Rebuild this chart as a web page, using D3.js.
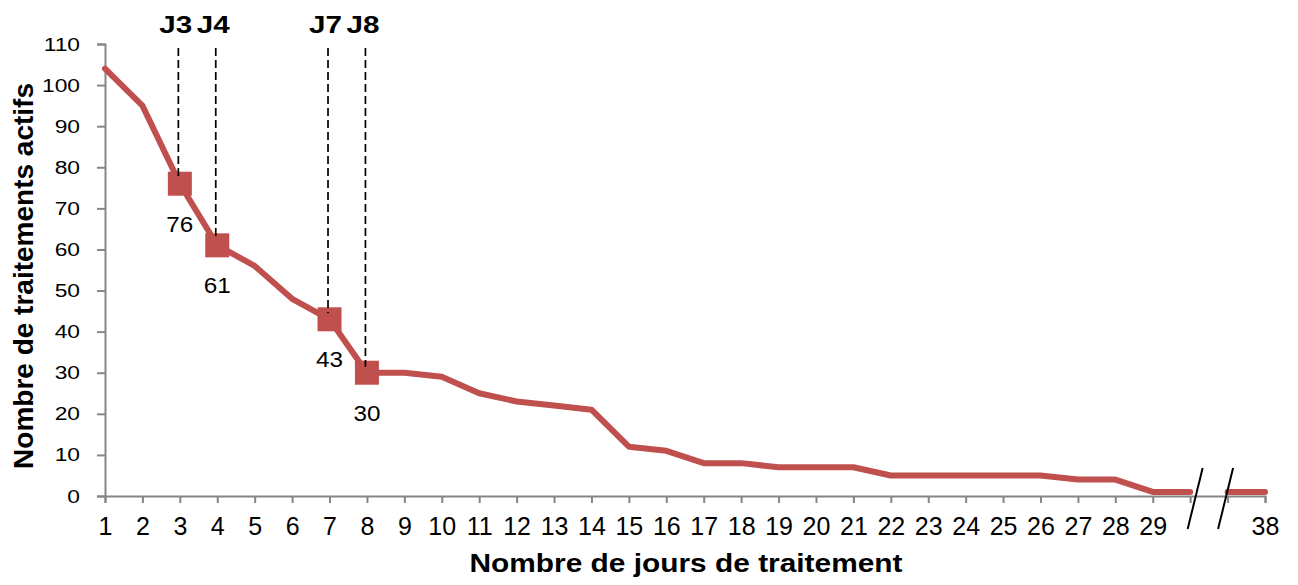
<!DOCTYPE html>
<html>
<head>
<meta charset="utf-8">
<script src="https://cdn.jsdelivr.net/npm/d3@7"></script>
<style>
  body { margin: 0; background: #fff; }
  svg { display: block; font-family: "Liberation Sans", Arial, sans-serif; }
</style>
</head>
<body>
<svg id="chart" width="1298" height="585"></svg>
<script>
'use strict';
// day labels on the x axis (two blank slots stand for the axis break)
const dayLabels = ['1','2','3','4','5','6','7','8','9','10','11','12','13','14','15',
  '16','17','18','19','20','21','22','23','24','25','26','27','28','29','','','38'];
// number of active treatments per slot
const actifs = [104,95,76,61,56,48,43,30,30,29,25,23,22,21,12,11,8,8,7,7,7,5,5,5,5,5,4,4,1,1,1,1];
// highlighted days (index in dayLabels) and their tags
const marked = [2, 3, 6, 7];
const markTags = ['J3', 'J4', 'J7', 'J8'];
const yTicks = [0,10,20,30,40,50,60,70,80,90,100,110];
// line is broken between these two slots
const breakAfter = 29;

const red = '#C0504D';
const axisGrey = '#868686';

const svg = d3.select('#chart');

const xScale = d3.scalePoint()
  .domain(d3.range(dayLabels.length))
  .range([105, 1265]);

const yScale = d3.scaleLinear()
  .domain([0, 110])
  .range([496, 44]);

// x axis
const xAxis = svg.append('g')
  .attr('transform', `translate(0,${yScale(0)})`)
  .call(d3.axisBottom(xScale).tickFormat((i) => dayLabels[i]).tickSizeOuter(0).tickSize(7).tickPadding(14));
xAxis.select('.domain').attr('stroke', axisGrey).attr('stroke-width', 2);
xAxis.selectAll('.tick line').attr('stroke', axisGrey).attr('stroke-width', 2);
xAxis.selectAll('.tick text')
  .attr('fill', '#000')
  .attr('font-size', 25)
  .attr('font-family', '"Liberation Sans", Arial, sans-serif');

// y axis, labels widened a bit like the original
const ySx = 1.2;
const yAxis = svg.append('g')
  .attr('transform', `translate(${xScale(0)},0)`)
  .call(d3.axisLeft(yScale).tickValues(yTicks).tickSizeOuter(0).tickSize(8));
yAxis.select('.domain').attr('stroke', axisGrey).attr('stroke-width', 2);
yAxis.selectAll('.tick line').attr('stroke', axisGrey).attr('stroke-width', 2);
yAxis.selectAll('.tick text')
  .attr('fill', '#000')
  .attr('font-size', 19)
  .attr('font-family', '"Liberation Sans", Arial, sans-serif')
  .attr('x', -25 / ySx)
  .attr('transform', `scale(${ySx},1)`);

// the line, in two pieces around the break
const pts = actifs.map((v, i) => ({ i, v }));
const line = d3.line().x((d) => xScale(d.i)).y((d) => yScale(d.v));
[pts.slice(0, breakAfter + 1), pts.slice(breakAfter + 1)].forEach((seg) => {
  svg.append('path')
    .attr('d', line(seg))
    .attr('fill', 'none')
    .attr('stroke', red)
    .attr('stroke-width', 6)
    .attr('stroke-linejoin', 'round')
    .attr('stroke-linecap', 'round');
});

// break marks
[xScale(breakAfter) + 5, xScale(breakAfter + 1) - 2].forEach((cx) => {
  svg.append('line')
    .attr('x1', cx - 7.5).attr('y1', yScale(0) + 33)
    .attr('x2', cx + 7.5).attr('y2', yScale(0) - 28)
    .attr('stroke', '#000')
    .attr('stroke-width', 2);
});

// square markers
svg.selectAll('.mark')
  .data(marked)
  .join('rect')
  .attr('class', 'mark')
  .attr('x', (i) => xScale(i) - 12)
  .attr('y', (i) => yScale(actifs[i]) - 12)
  .attr('width', 24)
  .attr('height', 24)
  .attr('fill', red);

// value labels under the markers
svg.selectAll('.val')
  .data(marked)
  .join('text')
  .attr('class', 'val')
  .attr('x', (i) => xScale(i))
  .attr('y', (i) => yScale(actifs[i]) + 48)
  .attr('text-anchor', 'middle')
  .attr('font-size', 22)
  .attr('textLength', 27)
  .attr('lengthAdjust', 'spacingAndGlyphs')
  .text((i) => actifs[i]);

// dashed guides from the tags down to the markers
svg.selectAll('.guide')
  .data(marked)
  .join('line')
  .attr('class', 'guide')
  .attr('x1', (i) => xScale(i) - 1.5)
  .attr('x2', (i) => xScale(i) - 1.5)
  .attr('y1', yScale(109))
  .attr('y2', (i) => yScale(actifs[i]) - 6)
  .attr('stroke', '#000')
  .attr('stroke-width', 1.7)
  .attr('stroke-dasharray', '8,4');

svg.selectAll('.tag')
  .data(marked)
  .join('text')
  .attr('class', 'tag')
  .attr('x', (i) => xScale(i) - 4)
  .attr('y', 33)
  .attr('text-anchor', 'middle')
  .attr('font-size', 24)
  .attr('font-weight', 'bold')
  .attr('textLength', 33)
  .attr('lengthAdjust', 'spacingAndGlyphs')
  .text((d, k) => markTags[k]);

// axis titles
svg.append('text')
  .attr('x', 686)
  .attr('y', 572)
  .attr('text-anchor', 'middle')
  .attr('font-size', 26)
  .attr('font-weight', 'bold')
  .attr('textLength', 433)
  .attr('lengthAdjust', 'spacingAndGlyphs')
  .text('Nombre de jours de traitement');

svg.append('text')
  .attr('transform', 'translate(33,276) rotate(-90)')
  .attr('text-anchor', 'middle')
  .attr('font-size', 28)
  .attr('font-weight', 'bold')
  .text('Nombre de traitements actifs');
</script>
</body>
</html>
